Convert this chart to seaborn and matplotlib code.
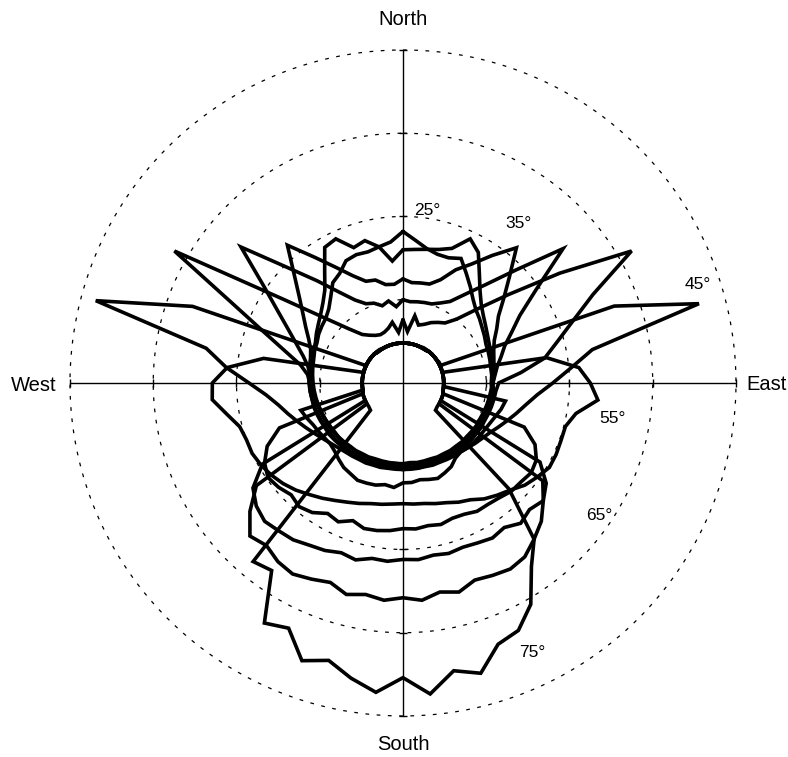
import numpy as np
import matplotlib
matplotlib.use("Agg")
import matplotlib.pyplot as plt
import seaborn as sns

sns.set_theme(style="white")
plt.rcParams["font.family"] = ["Liberation Sans", "DejaVu Sans"]
plt.rcParams["text.color"] = "black"

# Azimuth of every sample, degrees clockwise from north (5-degree steps)
azimuth = list(range(0, 360, 5))

# Radius of each curve at every azimuth (same units as the dotted rings)
r_c1 = [1.82, 1.72, 1.64, 1.60, 1.60, 1.65, 1.52, 1.41, 1.31, 1.24, 1.20, 1.16, 1.13, 1.10, 1.09, 1.08, 1.07, 1.07, 1.06,
        1.07, 1.06, 1.05, 1.04, 1.03, 1.03, 1.02, 1.02, 1.01, 1.01, 1.00, 1.00, 0.99, 0.99, 0.98, 0.98, 0.98, 0.98,
        0.98, 0.98, 0.99, 0.98, 0.99, 0.99, 1.00, 1.00, 1.01, 1.01, 1.02, 1.02, 1.03, 1.04, 1.05, 1.06, 1.07,
        1.08, 1.09, 1.10, 1.11, 1.13, 1.14, 1.17, 1.19, 1.21, 1.26, 1.35, 1.47, 1.52, 1.62, 1.64, 1.63, 1.66, 1.70]
r_c2 = [1.60, 1.61, 1.63, 1.66, 1.72, 1.91, 1.81, 1.60, 1.44, 1.33, 1.26, 1.21, 1.17, 1.14, 1.12, 1.10, 1.09, 1.09, 1.08,
        1.06, 1.05, 1.04, 1.03, 1.02, 1.02, 1.01, 1.00, 1.00, 0.99, 0.99, 0.98, 0.98, 0.97, 0.97, 0.97, 0.96, 0.97,
        0.97, 0.97, 0.97, 0.97, 0.98, 0.98, 0.99, 0.99, 1.00, 1.01, 1.01, 1.02, 1.03, 1.04, 1.05, 1.07, 1.09,
        1.11, 1.11, 1.11, 1.12, 1.14, 1.16, 1.20, 1.24, 1.29, 1.36, 1.46, 1.64, 1.88, 1.91, 1.73, 1.77, 1.66, 1.47]
r_c3 = [1.25, 1.21, 1.22, 1.23, 1.32, 1.50, 1.65, 1.87, 2.12, 1.81, 1.58, 1.40, 1.30, 1.21, 1.16, 1.13, 1.11, 1.10, 1.08,
        1.09, 1.08, 1.07, 1.06, 1.06, 1.05, 1.05, 1.04, 1.04, 1.03, 1.03, 1.02, 1.03, 1.02, 1.02, 1.01, 1.02, 1.01,
        1.02, 1.01, 1.02, 1.02, 1.03, 1.03, 1.04, 1.04, 1.05, 1.06, 1.06, 1.07, 1.08, 1.09, 1.10, 1.11, 1.12,
        1.13, 1.13, 1.14, 1.15, 1.18, 1.25, 1.35, 1.47, 1.63, 1.85, 2.16, 1.84, 1.60, 1.42, 1.30, 1.28, 1.20, 1.19]
r_c4 = [1.00, 0.98, 0.99, 1.00, 1.01, 1.06, 1.13, 1.30, 1.54, 1.92, 2.51, 1.95, 1.62, 1.44, 1.30, 1.22, 1.15, 1.11, 1.08,
        1.07, 1.06, 1.05, 1.04, 1.03, 1.03, 1.02, 1.01, 1.01, 1.00, 1.00, 0.99, 0.99, 0.98, 0.98, 0.98, 0.97, 0.98,
        0.97, 0.98, 0.98, 0.98, 0.99, 0.99, 1.00, 1.00, 1.01, 1.02, 1.02, 1.03, 1.04, 1.05, 1.06, 1.07, 1.08,
        1.10, 1.12, 1.16, 1.24, 1.36, 1.52, 1.74, 2.05, 2.54, 1.96, 1.60, 1.33, 1.15, 1.05, 1.02, 0.96, 1.00, 0.92]
r_c5 = [0.76, 0.62, 0.82, 0.72, 0.75, 0.80, 0.84, 0.88, 1.00, 1.25, 1.65, 2.30, 3.17, 2.52, 2.17, 1.92, 1.73, 1.42, 1.15,
        1.12, 1.11, 1.10, 1.09, 1.08, 1.08, 1.07, 1.07, 1.06, 1.06, 1.05, 1.05, 1.04, 1.04, 1.03, 1.04, 1.03, 1.04,
        1.03, 1.04, 1.03, 1.04, 1.04, 1.05, 1.05, 1.06, 1.06, 1.07, 1.08, 1.08, 1.09, 1.10, 1.11, 1.11, 1.12,
        1.12, 1.15, 1.25, 1.46, 1.77, 2.26, 3.17, 1.75, 1.20, 0.92, 0.76, 0.70, 0.66, 0.64, 0.65, 0.68, 0.74, 0.61]
r_c6 = [0.48, 0.48, 0.48, 0.48, 0.48, 0.48, 0.49, 0.49, 0.49, 0.49, 0.49, 0.49, 0.50, 0.50,
        2.70, 3.68, 2.31, 2.02, 1.80, 1.62, 1.50, 1.41, 1.33, 1.26, 1.20, 1.16, 1.13, 1.10, 1.08, 1.07, 1.06, 1.05,
        1.05, 1.04, 1.04, 1.04, 1.04, 1.04, 1.04, 1.05, 1.05, 1.06, 1.06, 1.07, 1.08, 1.10, 1.13, 1.17, 1.22, 1.28,
        1.35, 1.43, 1.52, 1.65,
        1.85, 2.13, 2.40, 3.82, 2.69, 0.50, 0.49, 0.49, 0.49, 0.49, 0.49, 0.49, 0.48, 0.48, 0.48, 0.48, 0.48, 0.48]
r_c7 = [0.48, 0.48, 0.48, 0.48, 0.48, 0.48, 0.48, 0.48, 0.49, 0.49, 0.49, 0.49, 0.49, 0.49, 0.49, 0.49,
        1.75, 2.12, 2.25, 2.35, 2.11, 2.02, 2.02, 2.03, 2.03, 1.97, 1.91, 1.82, 1.76, 1.70, 1.62, 1.58, 1.53, 1.50,
        1.47, 1.46, 1.45, 1.46, 1.48, 1.50, 1.54, 1.58, 1.63, 1.69, 1.75, 1.82, 1.88, 1.93, 1.97, 2.00, 2.00, 2.03,
        2.15, 2.30, 2.29, 2.12, 1.70,
        0.49, 0.49, 0.49, 0.49, 0.49, 0.49, 0.49, 0.49, 0.48, 0.48, 0.48, 0.48, 0.48, 0.48, 0.48]
r_c8 = [0.48, 0.48, 0.48, 0.48, 0.48, 0.48, 0.48, 0.48, 0.49, 0.49, 0.49, 0.49, 0.49, 0.49, 0.49, 0.49, 0.49, 0.49,
        0.49, 0.49,
        1.25, 1.22, 1.18, 1.15, 1.13, 1.12, 1.11, 1.10, 1.08, 1.10, 1.16, 1.19, 1.22, 1.20, 1.18, 1.20, 1.20, 1.26,
        1.24, 1.27, 1.28, 1.29, 1.26, 1.24, 1.20, 1.16, 1.14, 1.15, 1.17, 1.19, 1.23, 1.27,
        0.49, 0.49, 0.49, 0.49, 0.49, 0.49, 0.49, 0.49, 0.49, 0.49, 0.49, 0.49, 0.48, 0.48, 0.48, 0.48, 0.48, 0.48,
        0.48, 0.48]
r_c9 = [0.48, 0.48, 0.48, 0.48, 0.48, 0.48, 0.48, 0.48, 0.49, 0.49, 0.49, 0.49, 0.49, 0.49, 0.49, 0.49, 0.49, 0.49,
        0.49, 0.49, 0.49, 0.50,
        1.55, 1.75, 1.85, 1.88, 1.85, 1.84, 1.80, 1.78, 1.78, 1.74, 1.73, 1.76, 1.74, 1.76, 1.75, 1.78, 1.80, 1.81,
        1.76, 1.84, 1.81, 1.90, 1.94, 1.90, 1.95, 1.98, 1.92, 1.80, 1.58,
        0.50, 0.49, 0.49, 0.49, 0.49, 0.49, 0.49, 0.49, 0.49, 0.49, 0.49, 0.49, 0.49, 0.48, 0.48, 0.48, 0.48, 0.48,
        0.48, 0.48, 0.48]
r_c10 = [0.48, 0.48, 0.48, 0.48, 0.48, 0.48, 0.48, 0.48, 0.49, 0.49, 0.49, 0.49, 0.49, 0.49, 0.49, 0.49, 0.49, 0.49,
         0.49, 0.49, 0.49, 0.50, 0.50, 0.50,
         1.90, 2.10, 2.20, 2.15, 2.20, 2.12, 2.15, 2.12, 2.10, 2.12, 2.10, 2.13, 2.12, 2.15, 2.14, 2.20, 2.17, 2.22,
         2.25, 2.30, 2.32, 2.35, 2.30, 2.20, 1.95,
         0.50, 0.50, 0.50, 0.49, 0.49, 0.49, 0.49, 0.49, 0.49, 0.49, 0.49, 0.49, 0.49, 0.49, 0.49, 0.48, 0.48, 0.48,
         0.48, 0.48, 0.48, 0.48, 0.48]
r_c11 = [0.48, 0.48, 0.48, 0.48, 0.48, 0.48, 0.48, 0.48, 0.49, 0.49, 0.49, 0.49, 0.49, 0.49, 0.49, 0.49, 0.49, 0.49,
         0.49, 0.49, 0.49, 0.50, 0.50, 0.50, 0.50,
         2.05, 2.20, 2.35, 2.45, 2.55, 2.58, 2.55, 2.52, 2.60, 2.55, 2.62, 2.58, 2.62, 2.58, 2.63, 2.55, 2.60, 2.65,
         2.62, 2.55, 2.60, 2.40, 2.15,
         0.50, 0.50, 0.50, 0.50, 0.49, 0.49, 0.49, 0.49, 0.49, 0.49, 0.49, 0.49, 0.49, 0.49, 0.49, 0.49, 0.48, 0.48,
         0.48, 0.48, 0.48, 0.48, 0.48, 0.48]
r_c12 = [0.48, 0.48, 0.48, 0.48, 0.48, 0.48, 0.48, 0.48, 0.49, 0.49, 0.49, 0.49, 0.49, 0.49, 0.49, 0.49, 0.49, 0.49,
         0.49, 0.49, 0.49, 0.50, 0.50, 0.50, 0.50, 0.50, 0.51,
         1.80, 2.45, 2.69, 3.07, 3.28, 3.34, 3.61, 3.51, 3.75, 3.54, 3.73, 3.60, 3.45, 3.55, 3.25, 3.33, 2.75, 2.80,
         0.85,
         0.51, 0.50, 0.50, 0.50, 0.50, 0.50, 0.49, 0.49, 0.49, 0.49, 0.49, 0.49, 0.49, 0.49, 0.49, 0.49, 0.49, 0.49,
         0.48, 0.48, 0.48, 0.48, 0.48, 0.48, 0.48, 0.48]

curves = [r_c1, r_c2, r_c3, r_c4, r_c5, r_c6, r_c7, r_c8, r_c9, r_c10, r_c11, r_c12]
for c in curves:
    assert len(c) == len(azimuth), len(c)

# Curve labels: text, azimuth (deg), radius
label_text = ["25°", "35°", "45°", "55°", "65°", "75°"]
label_az = [7.9, 35.9, 71.6, 99.5, 124.1, 154.4]
label_r = [2.09, 2.36, 3.73, 2.55, 2.84, 3.59]

ring_radii = [1, 2, 3, 4]

fig = plt.figure(figsize=(7.88, 7.57), dpi=100)
ax = fig.add_axes([0.0888, 0.0542, 0.8452, 0.8798], projection="polar")
ax.set_theta_zero_location("N")
ax.set_theta_direction(-1)
ax.set_ylim(0, 4)
ax.set_axis_off()

# dotted range rings
full = np.linspace(0, 2 * np.pi, 721)
for rr in ring_radii:
    ax.plot(full, np.full_like(full, rr), color="black", lw=0.9,
            linestyle=(0, (3, 6)), zorder=1, clip_on=False)

# compass axes with small ticks where they cross the rings
for ang in (0, 90, 180, 270):
    t = np.deg2rad(ang)
    ax.plot([t, t], [0, 4], color="black", lw=1.0, zorder=1, clip_on=False)
    mk = "_" if ang in (0, 180) else "|"
    ax.plot([t] * 4, ring_radii, linestyle="none", marker=mk, markersize=6,
            markeredgewidth=1.0, color="black", zorder=1, clip_on=False)

for r_vals in curves:
    th = np.deg2rad(azimuth + [360])
    rv = list(r_vals) + [r_vals[0]]
    sns.lineplot(x=th, y=rv, ax=ax, sort=False, estimator=None, color="black",
                 lw=2.6, solid_joinstyle="miter", zorder=3)

for txt, a, rr in zip(label_text, label_az, label_r):
    ax.text(np.deg2rad(a), rr, txt, fontsize=12.5, ha="center", va="center", zorder=4)

fig.text(0.5114, 0.9736, "North", fontsize=14.5, ha="center", va="center")
fig.text(0.5114, 0.0159, "South", fontsize=14.5, ha="center", va="center")
fig.text(0.043, 0.4914, "West", fontsize=14.5, ha="center", va="center")
fig.text(0.973, 0.4927, "East", fontsize=14.5, ha="center", va="center")

fig.savefig("out.png", dpi=100, facecolor="white")
